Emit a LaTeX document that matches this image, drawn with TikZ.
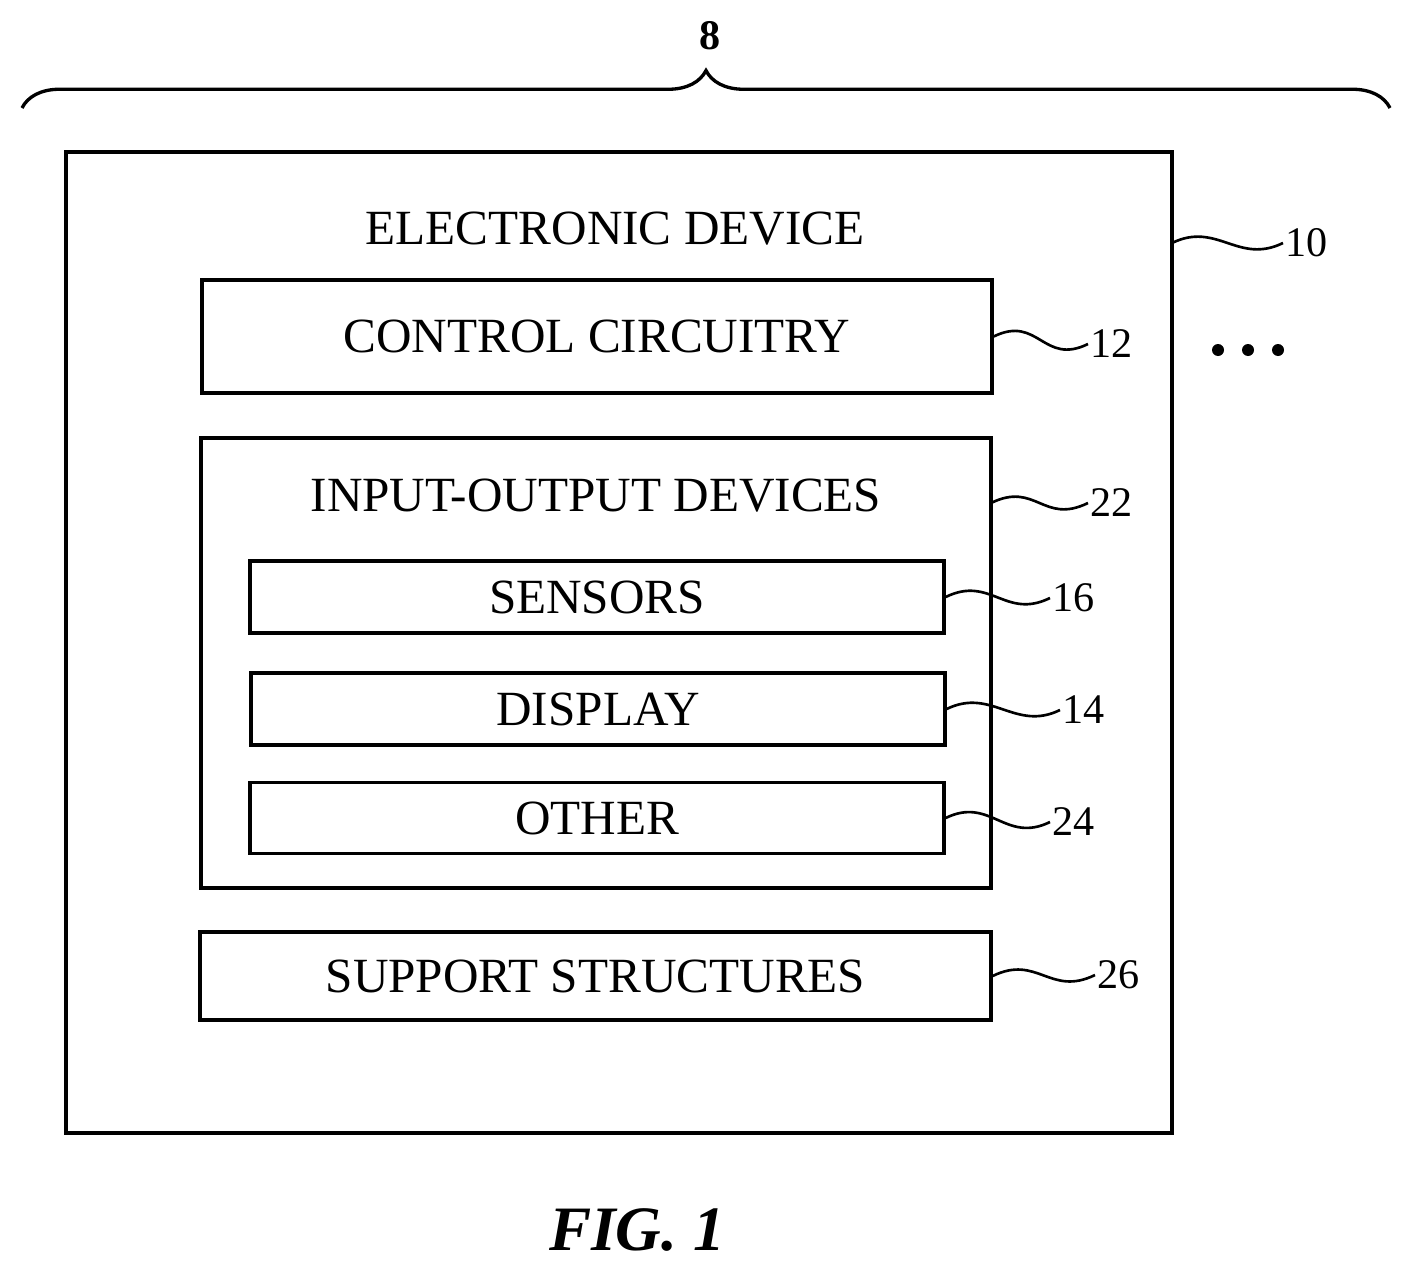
\documentclass[tikz,border=0pt]{standalone}
\usepackage{fontspec}
\setmainfont{Liberation Serif}
\usetikzlibrary{positioning,decorations.pathreplacing,calc}

\tikzset{
  blk/.style={draw, line width=1.9pt, inner sep=0pt, font=\fontsize{28}{32}\selectfont},
  num/.style={inner sep=1pt, font=\fontsize{24}{28}\selectfont},
  lead/.style={line width=1.5pt},
  dot/.style={circle, fill, inner sep=0pt, minimum size=0.24cm},
}

\begin{document}
\begin{tikzpicture}[x=0.02cm, y=-0.02cm]
    \useasboundingbox (0,0) rectangle (1413,1271);
    % Boxes
    \node[blk, minimum width=1106*0.02cm, minimum height=981*0.02cm] (dev) at (619,642.5) {};
    \node[font=\fontsize{28}{32}\selectfont] (devtitle) at (615,229) {ELECTRONIC DEVICE};
    \node[blk, minimum width=790*0.02cm, minimum height=113*0.02cm] (ctrl) at (597,336.5) {CONTROL CIRCUITRY};
    \node[blk, minimum width=790*0.02cm, minimum height=450*0.02cm] (io) at (596,663) {};
    \node[font=\fontsize{28}{32}\selectfont] (iotitle) at (596,496) {INPUT-OUTPUT DEVICES};
    \node[blk, minimum width=694*0.02cm, minimum height=72*0.02cm] (sens) at (597,597) {SENSORS};
    \node[blk, minimum width=694*0.02cm, minimum height=72*0.02cm] (disp) at (598,709) {DISPLAY};
    \node[blk, minimum width=694*0.02cm, minimum height=71*0.02cm] (oth) at (597,818) {OTHER};
    \node[blk, minimum width=791*0.02cm, minimum height=88*0.02cm] (supp) at (595.5,976) {SUPPORT STRUCTURES};

    % Reference numerals
    \node[num, anchor=west] (n10) at (1283,243) {10};
    \node[num, anchor=west] (n12) at (1088,344) {12};
    \node[num, anchor=west] (n22) at (1088,503) {22};
    \node[num, anchor=west] (n16) at (1050,598) {16};
    \node[num, anchor=west] (n14) at (1060,710) {14};
    \node[num, anchor=west] (n24) at (1050,822) {24};
    \node[num, anchor=west] (n26) at (1095,975) {26};
    \coordinate (d10) at (1172,243);
    \coordinate (d22) at (991,503);

    % Leaders
    \draw[lead] (d10) .. controls +(45,-22) and +(-45,22) .. (n10.west);
    \draw[lead] (ctrl.east) .. controls +(45,-22) and +(-45,22) .. (n12.west);
    \draw[lead] (d22) .. controls +(45,-22) and +(-45,22) .. (n22.west);
    \draw[lead] (sens.east) .. controls +(45,-22) and +(-45,22) .. (n16.west);
    \draw[lead] (disp.east) .. controls +(45,-22) and +(-45,22) .. (n14.west);
    \draw[lead] (oth.east) .. controls +(45,-22) and +(-45,22) .. (n24.west);
    \draw[lead] (supp.east) .. controls +(45,-22) and +(-45,22) .. (n26.west);

    % Ellipsis
    \node[dot] (dot1) at (1218,350) {};
    \node[dot] (dot2) at (1248,350) {};
    \node[dot] (dot3) at (1278,350) {};

    % System brace
    \coordinate (bl) at (22,108);
    \coordinate (br) at (1390,108);
    \draw[decorate, decoration={brace, amplitude=0.75cm}, line width=1.9pt] (bl) -- (br);
    \node[num, font=\fontsize{24}{28}\selectfont\bfseries] (n8) at (710,36) {8};

    % Caption
    \node[font=\fontsize{36}{40}\selectfont\bfseries\itshape] (fig) at (637,1230) {FIG. 1};
\end{tikzpicture}
\end{document}
